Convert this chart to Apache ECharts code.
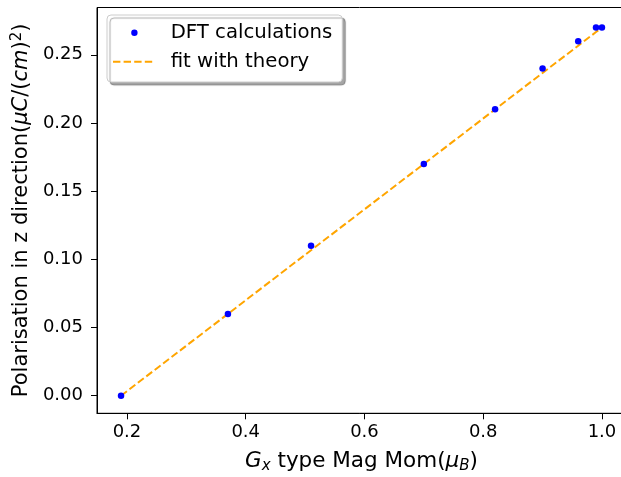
<!DOCTYPE html>
<html><head><meta charset="utf-8">
<script src="https://cdn.jsdelivr.net/npm/echarts@6/dist/echarts.min.js"></script>
<style>html,body{margin:0;padding:0;background:#fff}#c{width:621px;height:477px}</style>
</head><body><div id="c"></div>
<script>
const magMom = [0.19, 0.37, 0.51, 0.70, 0.82, 0.90, 0.96, 0.99, 1.00];
const dftPol = [0.00, 0.06, 0.11, 0.17, 0.21, 0.24, 0.26, 0.27, 0.27];
const fitPol = [0.00, 0.06, 0.1067, 0.17, 0.21, 0.2367, 0.2567, 0.2667, 0.27];
const xTicks = [0.2, 0.4, 0.6, 0.8, 1.0];
const yTicks = [0.00, 0.05, 0.10, 0.15, 0.20, 0.25];

const chart = echarts.init(document.getElementById('c'), null, {renderer: 'canvas'});
const font = 'DejaVu Sans';
const bbox = 'M0,0 L0.01,0 L0.01,0.01 Z M40,20 L39.99,20 L39.99,19.99 Z ';
const dotIcon = 'path://' + bbox + 'M18.2,10 A3.2,3.2 0 1,0 24.6,10 A3.2,3.2 0 1,0 18.2,10 Z';
const dashIcon = 'path://' + bbox + 'M0,9 L7.4,9 L7.4,11 L0,11 Z M10.6,9 L18,9 L18,11 L10.6,11 Z M21.2,9 L28.6,9 L28.6,11 L21.2,11 Z M31.8,9 L39.2,9 L39.2,11 L31.8,11 Z';
chart.setOption({
  animation: false,
  textStyle: {fontFamily: font},
  grid: {left: 97, top: 7.5, width: 529, height: 405.8, show: true, borderColor: '#000', borderWidth: 1,
    backgroundColor: 'transparent', outerBoundsMode: 'none', containLabel: false},
  legend: {
    orient: 'vertical', left: 107, top: 15,
    padding: [7.7, 10, 10.3, 6], itemGap: 9, itemWidth: 40, itemHeight: 20,
    backgroundColor: '#fff', borderColor: '#cccccc', borderWidth: 1, borderRadius: 4,
    shadowColor: 'rgba(0,0,0,0.35)', shadowBlur: 1, shadowOffsetX: 3, shadowOffsetY: 3,
    textStyle: {fontFamily: font, fontSize: 19.7, color: '#000', padding: [0, 0, 0, 12.7]},
    data: [
      {name: 'DFT calculations', icon: dotIcon, itemStyle: {color: '#0000ff', borderWidth: 0, opacity: 1}},
      {name: 'fit with theory', icon: dashIcon, itemStyle: {color: '#FFA500', borderWidth: 0, opacity: 1}}
    ]
  },
  xAxis: {
    type: 'value', min: 0.1495, max: 1.0405,
    axisLine: {show: true, onZero: false, lineStyle: {color: '#000'}},
    axisTick: {show: true, length: 6, lineStyle: {color: '#000'}, customValues: xTicks},
    axisLabel: {fontSize: 18, color: '#000', fontFamily: font, margin: 10.5, customValues: xTicks,
      formatter: v => v.toFixed(1)},
    splitLine: {show: false},
    name: '{i|G}{sub|x} type Mag Mom({i|μ}{sub|B})',
    nameLocation: 'middle', nameGap: 36,
    nameTextStyle: {fontSize: 21.5, color: '#000', fontFamily: font,
      rich: {
        i: {fontStyle: 'italic', fontSize: 21.5, fontFamily: font, color: '#000'},
        sub: {fontStyle: 'italic', fontSize: 15, fontFamily: font, color: '#000', verticalAlign: 'bottom', padding: [9, 0, 0, 0]}
      }}
  },
  yAxis: {
    type: 'value', min: -0.0129, max: 0.2847,
    axisLine: {show: true, onZero: false, lineStyle: {color: '#000'}},
    axisTick: {show: true, length: 6, lineStyle: {color: '#000'}, customValues: yTicks},
    axisLabel: {fontSize: 18, color: '#000', fontFamily: font, margin: 14, customValues: yTicks,
      formatter: v => v.toFixed(2)},
    splitLine: {show: false},
    name: 'Polarisation in z direction({i|μC}/({i|cm}){sup|2})',
    nameLocation: 'middle', nameGap: 62,
    nameTextStyle: {fontSize: 21, color: '#000', fontFamily: font,
      rich: {
        i: {fontStyle: 'italic', fontSize: 21, fontFamily: font, color: '#000'},
        sup: {fontSize: 15, fontFamily: font, color: '#000', verticalAlign: 'top', padding: [0, 0, 9, 0]}
      }}
  },
  series: [
    {name: 'fit with theory', type: 'line', data: magMom.map((x, i) => [x, fitPol[i]]),
      symbol: 'none', z: 2,
      lineStyle: {color: '#FFA500', width: 2, type: [7.4, 3.2]}, itemStyle: {color: '#FFA500'}},
    {name: 'DFT calculations', type: 'scatter', data: magMom.map((x, i) => [x, dftPol[i]]),
      symbol: 'circle', symbolSize: 6.5, z: 3, itemStyle: {color: '#0000ff', opacity: 1}}
  ]
});
</script></body></html>
